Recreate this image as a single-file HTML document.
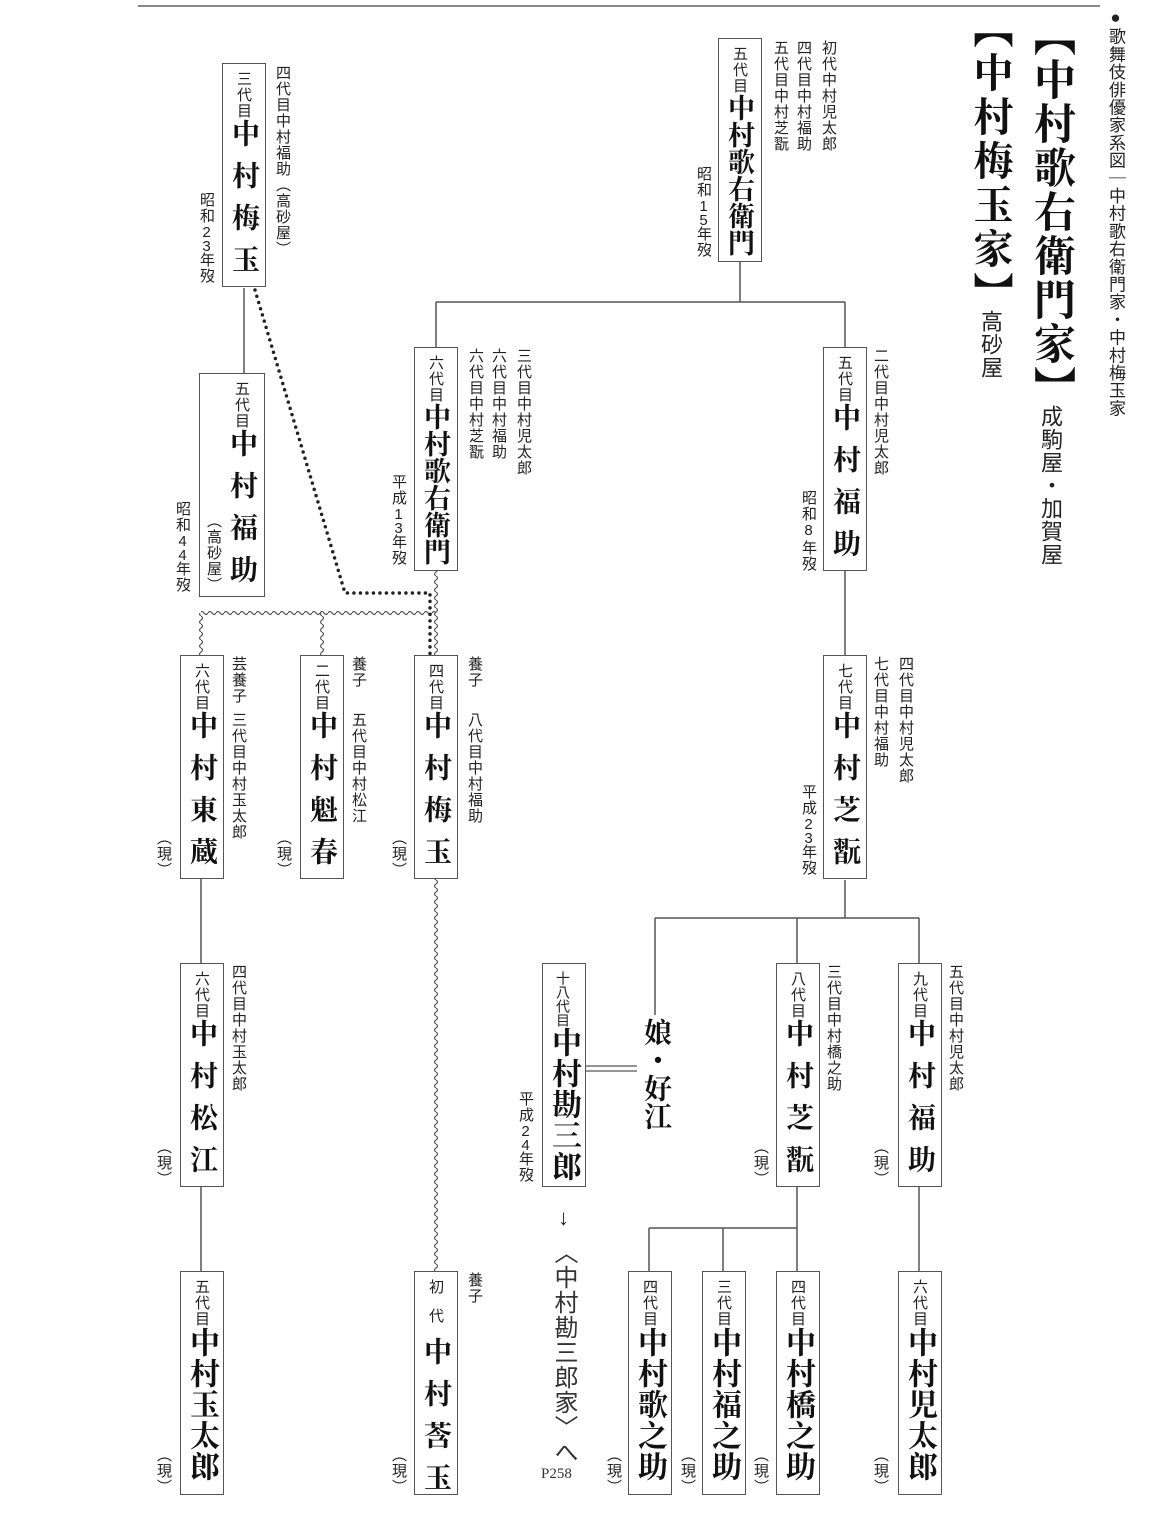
<!DOCTYPE html>
<html><head><meta charset="utf-8">
<style>
body{margin:0;width:1170px;height:1516px;background:#fff;position:relative;overflow:hidden}
.v{position:absolute;writing-mode:vertical-rl;text-orientation:upright;font-family:"Liberation Sans","Noto Sans CJK JP",sans-serif;font-size:15px;line-height:16px;color:#222;white-space:nowrap;letter-spacing:1px}
.d{letter-spacing:-3px}
.b{position:absolute;border:1.6px solid #555;box-sizing:border-box;background:#fff;width:44px;height:224px}
.c{position:absolute;top:7px;left:0;width:41px;line-height:41px;writing-mode:vertical-rl;text-orientation:upright;white-space:nowrap}
.g{font-family:"Liberation Sans","Noto Sans CJK JP",sans-serif;font-size:15px;letter-spacing:1px;color:#222}
.n{font-family:"Liberation Serif","Noto Serif CJK SC",serif;font-weight:bold;font-size:28px;color:#111}
.s{letter-spacing:14px}
.k{font-size:27px}
.m{font-size:30px;letter-spacing:1px}
.t{font-family:"Liberation Serif","Noto Serif CJK SC",serif;font-weight:bold;color:#111}
</style></head><body>
<svg width="1170" height="1516" style="position:absolute;left:0;top:0">
<defs>
<pattern id="wv0" x="0" y="0" width="8" height="8" patternUnits="userSpaceOnUse"><path d="M4 0 Q7 2 4 4 Q1 6 4 8" fill="none" stroke="#555" stroke-width="1.2"/></pattern>
<pattern id="wv5" x="5" y="0" width="8" height="8" patternUnits="userSpaceOnUse"><path d="M4 0 Q7 2 4 4 Q1 6 4 8" fill="none" stroke="#555" stroke-width="1.2"/></pattern>
<pattern id="wv6" x="6" y="0" width="8" height="8" patternUnits="userSpaceOnUse"><path d="M4 0 Q7 2 4 4 Q1 6 4 8" fill="none" stroke="#555" stroke-width="1.2"/></pattern>
<pattern id="wh" x="0" y="1" width="8" height="8" patternUnits="userSpaceOnUse"><path d="M0 4 Q2 1 4 4 Q6 7 8 4" fill="none" stroke="#555" stroke-width="1.2"/></pattern>
</defs>
<line x1="138" y1="6" x2="1100" y2="6" stroke="#888" stroke-width="2"/>
<g stroke="#555" stroke-width="1.5" fill="none">
<path d="M740 262V302M436 302H845M436 302V347M845 302V347"/>
<path d="M244 288V373"/>
<path d="M845 570V655"/>
<path d="M845 880V918M655 918H919M655 918V1015M797 918V963M919 918V963"/>
<path d="M797 1187V1228M649 1228H797M649 1228V1271M723 1228V1271M797 1228V1271"/>
<path d="M919 1187V1271"/>
<path d="M201 878V963M201 1187V1271"/>
<path d="M585 1066H637M585 1071H637" stroke-width="1.2"/>
</g>
<rect x="432" y="570" width="8" height="43" fill="url(#wv0)"/>
<rect x="201" y="609" width="235" height="8" fill="url(#wh)"/>
<rect x="197" y="613" width="8" height="42" fill="url(#wv5)"/>
<rect x="318" y="613" width="8" height="42" fill="url(#wv6)"/>
<rect x="432" y="613" width="8" height="42" fill="url(#wv0)"/>
<rect x="432" y="878" width="8" height="393" fill="url(#wv0)"/>
<path d="M255 290 L345 593 L430 593 L430 655" fill="none" stroke="#222" stroke-width="3.5" stroke-dasharray="0 6.5" stroke-linecap="round"/>
</svg>

<!-- titles -->
<div class="v" style="left:1106px;top:8px;font-size:17px;line-height:18px;letter-spacing:0.7px">●歌舞伎俳優家系図｜中村歌右衛門家・中村梅玉家</div>
<div class="v t" style="left:1029px;top:14px;font-size:42px;line-height:44px;letter-spacing:2px">【中村歌右衛門家】</div>
<div class="v" style="left:1039px;top:405px;font-size:22px;line-height:22px;letter-spacing:1px">成駒屋・加賀屋</div>
<div class="v t" style="left:969px;top:8px;font-size:40px;line-height:42px;letter-spacing:4px">【中村梅玉家】</div>
<div class="v" style="left:979px;top:310px;font-size:22px;line-height:22px">高砂屋</div>

<!-- box1 -->
<div class="b" style="left:718px;top:38px"><div class="c"><span class="g">五代目</span><span class="n k">中村歌右衛門</span></div></div>
<div class="v" style="left:820px;top:40px">初代中村児太郎</div>
<div class="v" style="left:795px;top:40px">四代目中村福助</div>
<div class="v" style="left:772px;top:40px">五代目中村芝翫</div>
<div class="v" style="left:695px;top:166px">昭和<span class="d">15</span>年歿</div>

<!-- box2 -->
<div class="b" style="left:222px;top:63px"><div class="c"><span class="g">三代目</span><span class="n s">中村梅玉</span></div></div>
<div class="v" style="left:274px;top:65px">四代目中村福助（高砂屋）</div>
<div class="v" style="left:198px;top:192px">昭和<span class="d">23</span>年歿</div>

<!-- box3 -->
<div class="b" style="left:199px;top:373px;width:66px"><div class="c" style="left:21px"><span class="g">五代目</span><span class="n s">中村福助</span></div></div>
<div class="v" style="left:205px;top:513px">（高砂屋）</div>
<div class="v" style="left:174px;top:501px">昭和<span class="d">44</span>年歿</div>

<!-- box4 -->
<div class="b" style="left:414px;top:347px"><div class="c"><span class="g">六代目</span><span class="n k">中村歌右衛門</span></div></div>
<div class="v" style="left:515px;top:348px">三代目中村児太郎</div>
<div class="v" style="left:490px;top:348px">六代目中村福助</div>
<div class="v" style="left:467px;top:348px">六代目中村芝翫</div>
<div class="v" style="left:390px;top:474px">平成<span class="d">13</span>年歿</div>

<!-- box5 -->
<div class="b" style="left:823px;top:347px"><div class="c"><span class="g">五代目</span><span class="n s">中村福助</span></div></div>
<div class="v" style="left:872px;top:348px">二代目中村児太郎</div>
<div class="v" style="left:800px;top:490px">昭和8年歿</div>

<!-- box6 -->
<div class="b" style="left:823px;top:655px"><div class="c"><span class="g">七代目</span><span class="n s">中村芝翫</span></div></div>
<div class="v" style="left:897px;top:656px">四代目中村児太郎</div>
<div class="v" style="left:872px;top:656px">七代目中村福助</div>
<div class="v" style="left:800px;top:784px">平成<span class="d">23</span>年歿</div>

<!-- box7 -->
<div class="b" style="left:414px;top:655px"><div class="c"><span class="g">四代目</span><span class="n s">中村梅玉</span></div></div>
<div class="v" style="left:466px;top:656px">養子</div>
<div class="v" style="left:466px;top:712px">八代目中村福助</div>
<div class="v" style="left:390px;top:830px">（現）</div>

<!-- box8 -->
<div class="b" style="left:300px;top:655px"><div class="c"><span class="g">二代目</span><span class="n s">中村魁春</span></div></div>
<div class="v" style="left:350px;top:656px">養子</div>
<div class="v" style="left:350px;top:712px">五代目中村松江</div>
<div class="v" style="left:275px;top:830px">（現）</div>

<!-- box9 -->
<div class="b" style="left:180px;top:655px"><div class="c"><span class="g">六代目</span><span class="n s">中村東蔵</span></div></div>
<div class="v" style="left:230px;top:656px">芸養子</div>
<div class="v" style="left:230px;top:712px">三代目中村玉太郎</div>
<div class="v" style="left:155px;top:830px">（現）</div>

<!-- box10 -->
<div class="b" style="left:180px;top:963px"><div class="c"><span class="g">六代目</span><span class="n s">中村松江</span></div></div>
<div class="v" style="left:230px;top:964px">四代目中村玉太郎</div>
<div class="v" style="left:155px;top:1139px">（現）</div>

<!-- box11 -->
<div class="b" style="left:180px;top:1271px"><div class="c"><span class="g">五代目</span><span class="n m">中村玉太郎</span></div></div>
<div class="v" style="left:155px;top:1447px">（現）</div>

<!-- box12 -->
<div class="b" style="left:414px;top:1271px"><div class="c"><span class="g" style="letter-spacing:14px">初代</span><span class="n s">中村莟玉</span></div></div>
<div class="v" style="left:466px;top:1272px">養子</div>
<div class="v" style="left:390px;top:1447px">（現）</div>

<!-- box13 -->
<div class="b" style="left:542px;top:963px"><div class="c"><span class="g" style="font-size:14px;letter-spacing:0">十八代目</span><span class="n m">中村勘三郎</span></div></div>
<div class="v" style="left:517px;top:1091px">平成<span class="d">24</span>年歿</div>

<div class="v t" style="left:641px;top:1018px;font-size:28px;line-height:28px;letter-spacing:0">娘・好江</div>
<div class="v" style="left:552px;top:1205px;font-size:22px;line-height:22px">↓</div>
<div class="v" style="left:551px;top:1240px;font-size:24px;line-height:24px;letter-spacing:1px;color:#333">〈中村勘三郎家〉へ</div>
<div style="position:absolute;left:541px;top:1466px;font-family:'Liberation Serif',serif;font-size:15px;color:#333">P258</div>

<!-- box15 -->
<div class="b" style="left:776px;top:963px"><div class="c"><span class="g">八代目</span><span class="n s">中村芝翫</span></div></div>
<div class="v" style="left:825px;top:964px">三代目中村橋之助</div>
<div class="v" style="left:752px;top:1139px">（現）</div>

<!-- box16 -->
<div class="b" style="left:898px;top:963px"><div class="c"><span class="g">九代目</span><span class="n s">中村福助</span></div></div>
<div class="v" style="left:947px;top:964px">五代目中村児太郎</div>
<div class="v" style="left:872px;top:1139px">（現）</div>

<!-- bottom row -->
<div class="b" style="left:628px;top:1271px"><div class="c"><span class="g">四代目</span><span class="n m">中村歌之助</span></div></div>
<div class="v" style="left:605px;top:1447px">（現）</div>
<div class="b" style="left:702px;top:1271px"><div class="c"><span class="g">三代目</span><span class="n m">中村福之助</span></div></div>
<div class="v" style="left:679px;top:1447px">（現）</div>
<div class="b" style="left:776px;top:1271px"><div class="c"><span class="g">四代目</span><span class="n m">中村橋之助</span></div></div>
<div class="v" style="left:752px;top:1447px">（現）</div>
<div class="b" style="left:898px;top:1271px"><div class="c"><span class="g">六代目</span><span class="n m">中村児太郎</span></div></div>
<div class="v" style="left:872px;top:1447px">（現）</div>
</body></html>
